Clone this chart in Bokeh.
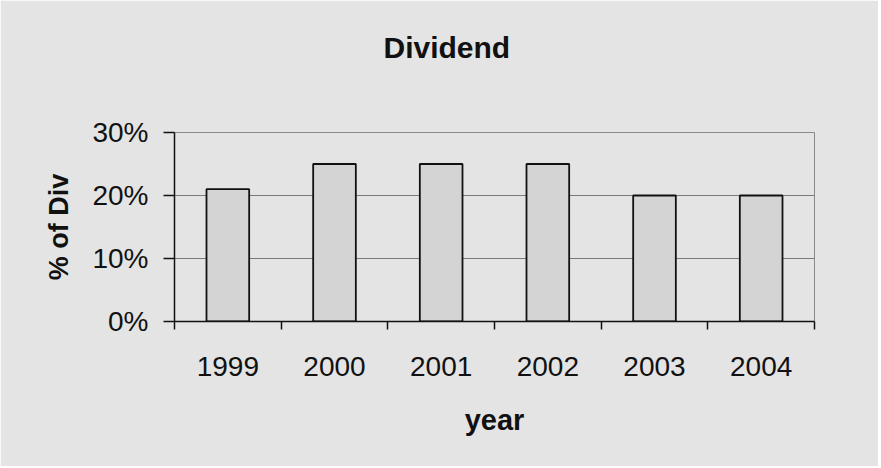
import numpy as np
from bokeh.plotting import figure
from bokeh.models import FixedTicker, NumeralTickFormatter, Range1d, Title
from bokeh.embed import file_html
from bokeh.resources import INLINE

years = ["1999", "2000", "2001", "2002", "2003", "2004"]
dividend = [0.21, 0.25, 0.25, 0.25, 0.20, 0.20]
y_ticks = [0.0, 0.1, 0.2, 0.3]
title_text = "Dividend"

BG = "#e4e4e4"
BAR = "#d4d4d4"
FONT = "Liberation Sans"

xc = np.arange(len(years)) + 0.5

p = figure(width=878, height=466, output_backend="svg", toolbar_location=None,
           x_range=Range1d(0, len(years)), y_range=Range1d(0, 0.30),
           min_border_left=174, min_border_right=64, min_border_top=132,
           min_border_bottom=145)
p.background_fill_color = BG
p.border_fill_color = BG
p.outline_line_color = "#8a8a8a"
p.outline_line_width = 1

p.title = Title(text=title_text, text_font=FONT, text_font_size="30px",
                text_font_style="bold", text_color="#111111", align="left",
                offset=209, standoff=0)
# spacer between the title and the plot area
p.add_layout(Title(text=" ", text_font_size="1px", standoff=66), "above")

p.vbar(x=xc, top=dividend, width=0.4, fill_color=BAR,
       line_color="#111111", line_width=1.8)

p.xgrid.visible = False
p.ygrid.ticker = FixedTicker(ticks=y_ticks)
p.ygrid.grid_line_color = "#7a7a7a"
p.ygrid.grid_line_width = 1

xa = p.xaxis[0]
xa.ticker = FixedTicker(ticks=list(xc), minor_ticks=list(range(len(years) + 1)))
xa.major_label_overrides = {float(x): y for x, y in zip(xc, years)}
xa.major_tick_out = 0
xa.major_tick_in = 0
xa.minor_tick_out = 8
xa.minor_tick_in = 0
xa.minor_tick_line_color = "#111111"
xa.minor_tick_line_width = 1.5
xa.axis_line_color = "#111111"
xa.axis_line_width = 1.5
xa.major_label_standoff = 27
xa.major_label_text_font = FONT
xa.major_label_text_font_size = "28px"
xa.major_label_text_color = "#111111"
xa.axis_label = "year"
xa.axis_label_text_font = FONT
xa.axis_label_text_font_size = "29px"
xa.axis_label_text_font_style = "bold"
xa.axis_label_text_color = "#111111"
xa.axis_label_standoff = 25

ya = p.yaxis[0]
ya.ticker = FixedTicker(ticks=y_ticks)
ya.formatter = NumeralTickFormatter(format="0%")
ya.major_tick_out = 11
ya.major_tick_in = 0
ya.minor_tick_line_color = None
ya.major_tick_line_color = "#111111"
ya.major_tick_line_width = 1.5
ya.axis_line_color = "#111111"
ya.axis_line_width = 1.5
ya.major_label_standoff = 15
ya.major_label_text_font = FONT
ya.major_label_text_font_size = "28px"
ya.major_label_text_color = "#111111"
ya.axis_label = "% of Div"
ya.axis_label_text_font = FONT
ya.axis_label_text_font_size = "27px"
ya.axis_label_text_font_style = "bold"
ya.axis_label_text_color = "#111111"
ya.axis_label_standoff = 15

open("out.html", "w").write(file_html(p, INLINE))
